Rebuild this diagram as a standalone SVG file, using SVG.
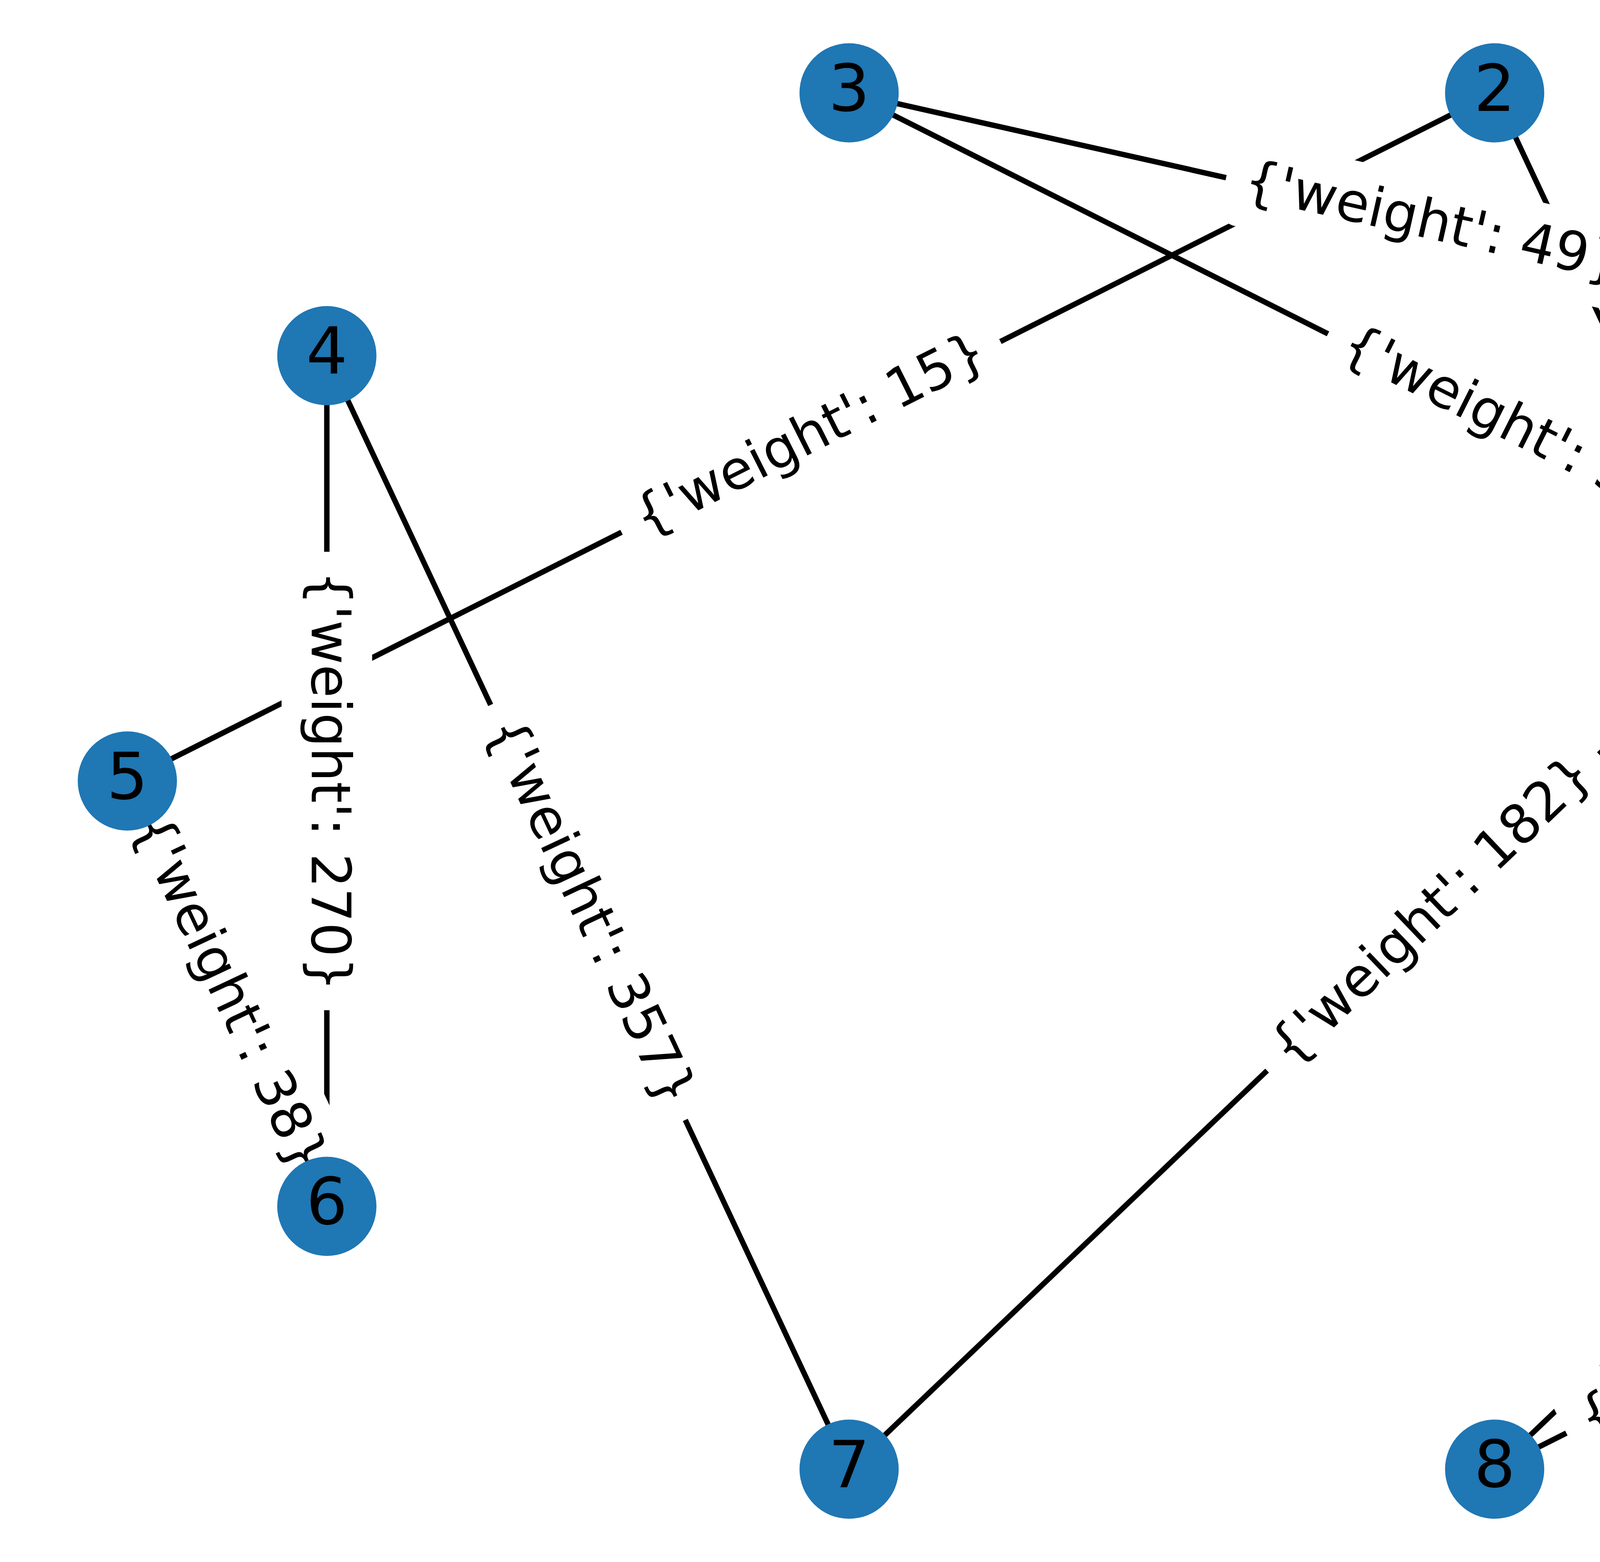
<svg xmlns="http://www.w3.org/2000/svg" width="6000" height="4000" viewBox="0 0 6000 4000">
<style>
.e line{stroke:#000;stroke-width:13.9;stroke-linecap:butt}
.lb rect{fill:#fff;stroke:#fff;stroke-width:13.9}
.lb text{font-family:"DejaVu Sans","Liberation Sans",sans-serif;font-size:138.9px;text-anchor:middle;fill:#000}
.n circle{fill:#1f77b4}
.n text{font-family:"DejaVu Sans","Liberation Sans",sans-serif;font-size:166.7px;text-anchor:middle;fill:#000}
</style>
<rect width="6000" height="4000" fill="#fff"/>
<g id="edges" class="e">
<line x1="5674" y1="2000" x2="2173.7" y2="237.7"/>
<line x1="5674" y1="2000" x2="3826.3" y2="3762.3"/>
<line x1="5163.3" y1="910.8" x2="2173.7" y2="237.7"/>
<line x1="5163.3" y1="910.8" x2="2173.7" y2="3762.3"/>
<line x1="3826.3" y1="237.7" x2="326" y2="2000"/>
<line x1="3826.3" y1="237.7" x2="5163.3" y2="3089.2"/>
<line x1="836.7" y1="910.8" x2="836.7" y2="3089.2"/>
<line x1="836.7" y1="910.8" x2="2173.7" y2="3762.3"/>
<line x1="326" y1="2000" x2="836.7" y2="3089.2"/>
<line x1="3826.3" y1="3762.3" x2="5163.3" y2="3089.2"/>
</g>
<g id="edge-labels">
<g class="lb" transform="translate(3923.9,1118.9) rotate(26.72)"><rect x="-580" y="-109" width="1160" height="218" rx="41.7"/><text y="38.3">{'weight': 360}</text></g>
<g class="lb" transform="translate(4750.2,2881.2) rotate(-43.65)"><rect x="-536" y="-109" width="1072" height="218" rx="41.7"/><text y="38.3">{'weight': 58}</text></g>
<g class="lb" transform="translate(3668.5,574.3) rotate(12.69)"><rect x="-536" y="-109" width="1072" height="218" rx="41.7"/><text y="38.3">{'weight': 49}</text></g>
<g class="lb" transform="translate(3668.5,2336.6) rotate(-43.65)"><rect x="-580" y="-109" width="1160" height="218" rx="41.7"/><text y="38.3">{'weight': 182}</text></g>
<g class="lb" transform="translate(2076.2,1118.9) rotate(-26.72)"><rect x="-536" y="-109" width="1072" height="218" rx="41.7"/><text y="38.3">{'weight': 15}</text></g>
<g class="lb" transform="translate(4494.8,1663.5) rotate(64.88)"><rect x="-580" y="-109" width="1160" height="218" rx="41.7"/><text y="38.3">{'weight': 127}</text></g>
<g class="lb" transform="translate(836.7,2000) rotate(90)"><rect x="-580" y="-109" width="1160" height="218" rx="41.7"/><text y="38.3">{'weight': 270}</text></g>
<g class="lb" transform="translate(1505.2,2336.6) rotate(64.88)"><rect x="-580" y="-109" width="1160" height="218" rx="41.7"/><text y="38.3">{'weight': 357}</text></g>
<g class="lb" transform="translate(581.4,2544.6) rotate(64.88)"><rect x="-536" y="-109" width="1072" height="218" rx="41.7"/><text y="38.3">{'weight': 38}</text></g>
<g class="lb" transform="translate(4494.8,3425.8) rotate(-26.72)"><rect x="-536" y="-109" width="1072" height="218" rx="41.7"/><text y="38.3">{'weight': 88}</text></g>
</g>
<g id="node-0" class="n"><circle cx="5674" cy="2000" r="127"/><text x="5674" y="2046">0</text></g>
<g id="node-1" class="n"><circle cx="5163.3" cy="910.8" r="127"/><text x="5163.3" y="956.8">1</text></g>
<g id="node-2" class="n"><circle cx="3826.3" cy="237.7" r="127"/><text x="3826.3" y="283.7">2</text></g>
<g id="node-3" class="n"><circle cx="2173.7" cy="237.7" r="127"/><text x="2173.7" y="283.7">3</text></g>
<g id="node-4" class="n"><circle cx="836.7" cy="910.8" r="127"/><text x="836.7" y="956.8">4</text></g>
<g id="node-5" class="n"><circle cx="326" cy="2000" r="127"/><text x="326" y="2046">5</text></g>
<g id="node-6" class="n"><circle cx="836.7" cy="3089.2" r="127"/><text x="836.7" y="3135.2">6</text></g>
<g id="node-7" class="n"><circle cx="2173.7" cy="3762.3" r="127"/><text x="2173.7" y="3808.3">7</text></g>
<g id="node-8" class="n"><circle cx="3826.3" cy="3762.3" r="127"/><text x="3826.3" y="3808.3">8</text></g>
<g id="node-9" class="n"><circle cx="5163.3" cy="3089.2" r="127"/><text x="5163.3" y="3135.2">9</text></g>
</svg>
